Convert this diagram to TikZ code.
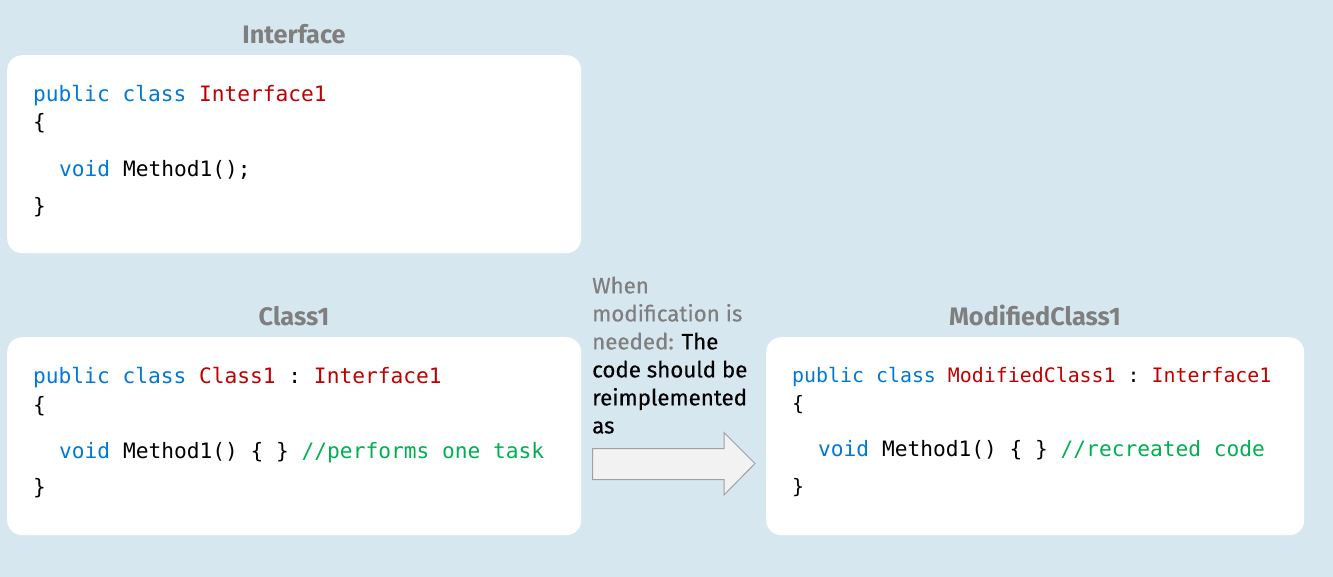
\documentclass[tikz,border=0pt]{standalone}
\usepackage{fontspec}
\setmainfont{Fira Sans}
\setmonofont{DejaVu Sans Mono}
\newfontfamily\notefont{Fira Sans}[FakeBold=0.4]
\definecolor{bgc}{RGB}{215,231,240}
\definecolor{kw}{RGB}{0,120,215}
\definecolor{cls}{RGB}{192,0,0}
\definecolor{cmt}{RGB}{0,176,80}
\definecolor{ttl}{RGB}{127,127,127}
\definecolor{arrfill}{RGB}{242,242,242}
\definecolor{arrline}{RGB}{160,160,160}
\tikzset{
  codebox/.style={fill=white, rounded corners=15pt, draw=none, inner sep=0pt, anchor=north west},
  codeL/.style={anchor=base west, inner sep=0pt, font=\ttfamily\fontsize{21.2}{25}\selectfont},
  codeR/.style={anchor=base west, inner sep=0pt, font=\ttfamily\fontsize{19.9}{24}\selectfont},
  title/.style={anchor=base, inner sep=0pt, text=ttl, font=\bfseries\fontsize{25.3}{28}\selectfont},
  note/.style={anchor=north west, inner sep=0pt, align=left, font=\notefont\fontsize{22.3}{28}\selectfont},
}
\begin{document}
\begin{tikzpicture}[x=1pt,y=-1pt]
\fill[bgc] (0,0) rectangle (1333,577);
\useasboundingbox (0,0) rectangle (1333,577);

% boxes
\node[codebox, minimum width=574pt, minimum height=198pt] (ibox) at (7,55) {};
\node[codebox, minimum width=574pt, minimum height=198pt] (cbox) at (7,337) {};
\node[codebox, minimum width=538pt, minimum height=198pt] (mbox) at (766,337) {};

% titles
\node[title] (ititle) at (294,44) {Interface};
\node[title] (ctitle) at (294,326) {Class1};
\node[title] (mtitle) at (1035,326) {ModifiedClass1};

% Interface code
\node[codeL] (i1) at (33,102) {\textcolor{kw}{public class} \textcolor{cls}{Interface1}};
\node[codeL] (i2) at (33,130) {\{};
\node[codeL] (i3) at (59,177) {\textcolor{kw}{void} Method1();};
\node[codeL] (i4) at (33,214) {\}};

% Class1 code
\node[codeL] (c1) at (33,383) {\textcolor{kw}{public class} \textcolor{cls}{Class1} : \textcolor{cls}{Interface1}};
\node[codeL] (c2) at (33,412) {\{};
\node[codeL] (c3) at (59,458) {\textcolor{kw}{void} Method1() \{ \} \textcolor{cmt}{//performs one task}};
\node[codeL] (c4) at (33,494) {\}};

% ModifiedClass1 code
\node[codeR] (m1) at (792,382) {\textcolor{kw}{public class} \textcolor{cls}{ModifiedClass1} : \textcolor{cls}{Interface1}};
\node[codeR] (m2) at (792,410) {\{};
\node[codeL] (m3) at (818,456.5) {\textcolor{kw}{void} Method1() \{ \} \textcolor{cmt}{//recreated code}};
\node[codeR] (m4) at (792,493) {\}};

% note
\node[note] (note) at (592,276.5) {\textcolor{ttl}{When}\\\textcolor{ttl}{modification is}\\\textcolor{ttl}{needed:} The\\code should be\\reimplemented\\as};

% block arrow
\coordinate (a1) at (592.5,448.5);
\coordinate (a2) at (724,448.5);
\coordinate (a3) at (724,432.5);
\coordinate (a4) at (755,463.5);
\coordinate (a5) at (724,495);
\coordinate (a6) at (724,479.5);
\coordinate (a7) at (592.5,479.5);
\draw[fill=arrfill, draw=arrline, line width=1pt] (a1) -- (a2) -- (a3) -- (a4) -- (a5) -- (a6) -- (a7) -- cycle;
\end{tikzpicture}
\end{document}
